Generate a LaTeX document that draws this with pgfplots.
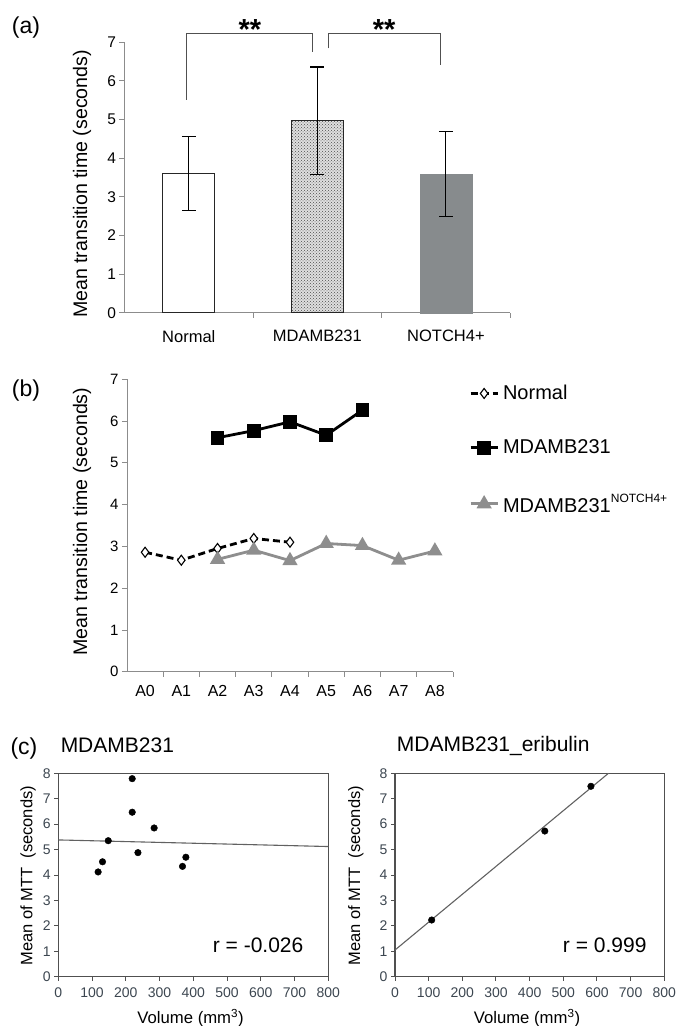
\documentclass[border=0pt]{standalone}
\usepackage{fontspec}
\setmainfont{Liberation Sans}
\usepackage{pgfplots}
\pgfplotsset{compat=1.18}
\usetikzlibrary{patterns}

\definecolor{axgray}{HTML}{8C8C8C}
\definecolor{bargray}{HTML}{878B8D}
\definecolor{linegray}{HTML}{8E8E8E}
\definecolor{boxgray}{HTML}{505050}
\definecolor{ticktext}{HTML}{3C4650}

\newcommand{\fs}[1]{\fontsize{#1}{#1}\selectfont}

\begin{document}
\begin{tikzpicture}
\path[use as bounding box] (0pt,0pt) rectangle (678pt,-1026pt);

% ---------------- (a) ----------------
\node[font=\fs{23}] at (26pt,-28pt) {(a)};
\begin{axis}[
  at={(124.5pt,-312.7pt)}, anchor=south west,
  scale only axis, width=385.7pt, height=270.4pt,
  xmin=-0.5, xmax=2.5, ymin=0, ymax=7,
  axis lines*=left,
  axis line style={axgray, line width=0.9pt},
  xtick={0,1,2}, xticklabels={Normal,MDAMB231,NOTCH4+},
  every major x tick/.append style={draw=none},
  minor xtick={0.5,1.5,2.5},
  ytick={0,...,7},
  tick align=outside, major tick length=5pt, minor tick length=5pt,
  every tick/.append style={axgray, line width=0.9pt},
  yticklabel style={font=\fs{15.5}},
  xticklabel style={font=\fs{16.5}, yshift=-9pt},
  /pgf/number format/assume math mode=true,
  ylabel={Mean transition time (seconds)},
  ylabel style={at={(axis description cs:-0.110,0.476)}, anchor=center, font=\fs{19.6}},
  clip=false,
  ybar, bar width=52pt,
  error bars/error bar style={black, line width=1.1pt},
  error bars/error mark options={rotate=90, mark size=7pt, line width=1.1pt, black},
]
\addplot[bar shift=0pt, fill=white, draw=black!85, line width=1.2pt,
  error bars/.cd, y dir=both, y explicit]
  coordinates {(0,3.61) += (0,0.94) -= (0,0.96)};
\addplot[bar shift=0pt, fill=gray!25, draw=black!85, line width=1.2pt,
  postaction={pattern=crosshatch dots, pattern color=black!70},
  error bars/.cd, y dir=both, y explicit]
  coordinates {(1,4.97) += (0,1.39) -= (0,1.40)};
\addplot[bar shift=0pt, fill=bargray, draw=bargray,
  error bars/.cd, y dir=both, y explicit]
  coordinates {(2,3.59) += (0,1.10) -= (0,1.10)};
% significance brackets
\draw[boxgray, line width=1pt] (axis cs:-0.02,5.51) -- (axis cs:-0.02,7.23) -- (axis cs:0.96,7.23) -- (axis cs:0.96,6.76);
\draw[boxgray, line width=1pt] (axis cs:1.09,6.84) -- (axis cs:1.09,7.23) -- (axis cs:1.96,7.23) -- (axis cs:1.96,6.41);
\node[font=\fs{29}\bfseries, anchor=base] at (axis cs:0.475,7.07) {**};
\node[font=\fs{29}\bfseries, anchor=base] at (axis cs:1.52,7.07) {**};
\end{axis}

% ---------------- (b) ----------------
\node[font=\fs{23}] at (26pt,-391pt) {(b)};
\begin{axis}[
  at={(127pt,-671.8pt)}, anchor=south west,
  scale only axis, width=326pt, height=292.6pt,
  xmin=-0.5, xmax=8.5, ymin=0, ymax=7,
  axis lines*=left,
  axis line style={axgray, line width=0.9pt},
  xtick={0,...,8}, xticklabels={A0,A1,A2,A3,A4,A5,A6,A7,A8},
  every major x tick/.append style={draw=none},
  minor xtick={0.5,1.5,...,8.5},
  ytick={0,...,7},
  tick align=outside, major tick length=5pt, minor tick length=5pt,
  every tick/.append style={axgray, line width=0.9pt},
  yticklabel style={font=\fs{15}},
  xticklabel style={font=\fs{16}, yshift=-5pt},
  /pgf/number format/assume math mode=true,
  ylabel={Mean transition time (seconds)},
  ylabel style={at={(axis description cs:-0.138,0.513)}, anchor=center, font=\fs{19.6}},
  clip=false,
  legend cell align=left,
  legend style={at={(axis description cs:1.04,0.993)}, anchor=north west, draw=none,
    fill=none, font=\fs{20}, row sep=34.5pt,
    nodes={inner xsep=4pt},
    legend image code/.code={\draw[mark repeat=2,mark phase=2,##1] plot coordinates {(0pt,0pt) (13.5pt,0pt) (27pt,0pt)};}},
]
\addplot[black, line width=2.8pt, dash pattern=on 7pt off 4pt,
  mark=diamond*, mark size=5pt, mark options={solid, fill=white, draw=black, line width=1.1pt}]
  coordinates {(0,2.86) (1,2.67) (2,2.95) (3,3.19) (4,3.10)};
\addlegendentry{Normal}
\addplot[black, line width=2.8pt, mark=square*, mark size=5.5pt, mark options={solid}]
  coordinates {(2,5.60) (3,5.77) (4,5.98) (5,5.66) (6,6.26)};
\addlegendentry{MDAMB231}
\addplot[linegray, line width=2.8pt, mark=triangle*, mark size=6pt, mark options={solid, fill=linegray}]
  coordinates {(2,2.69) (3,2.91) (4,2.66) (5,3.07) (6,3.02) (7,2.67) (8,2.89)};
\addlegendentry{MDAMB231\raisebox{0.5em}{\fs{12}NOTCH4+}}
\end{axis}

% ---------------- (c) ----------------
\node[font=\fs{23}] at (24pt,-749pt) {(c)};
\pgfplotsset{scatterpanel/.style={
  scale only axis, height=203.4pt,
  xmin=0, xmax=800, ymin=0, ymax=8,
  xtick={0,100,...,800}, ytick={0,...,8},
  axis line style={boxgray, line width=1.1pt},
  tick align=outside, tick pos=left, major tick length=4pt,
  every tick/.append style={boxgray, line width=1pt},
  ticklabel style={font=\fs{14}, text=ticktext},
  xticklabel style={yshift=-3pt},
  /pgf/number format/assume math mode=true,
  xlabel={Volume (mm\textsuperscript{3})},
  xlabel style={at={(axis description cs:0.49,-0.203)}, anchor=center, font=\fs{16.7}},
  ylabel style={anchor=center, font=\fs{16.5}},
  title style={anchor=west, font=\fs{21}},
  clip=false,
}}
\begin{axis}[scatterpanel,
  at={(58.3pt,-976.7pt)}, anchor=south west, width=270pt,
  ylabel={Mean of MTT\ \ (seconds)},
  ylabel style={at={(axis description cs:-0.112,0.496)}},
  title={MDAMB231},
  title style={at={(axis description cs:-0.004,1.106)}},
]
\addplot[boxgray!90, line width=1.1pt] coordinates {(0,5.38) (800,5.12)};
\addplot[only marks, mark=*, mark size=3.3pt, black]
  coordinates {(118,4.12) (131,4.52) (148,5.35) (219,7.79) (219,6.47) (236,4.88) (284,5.85) (368,4.34) (378,4.70)};
\node[font=\fs{21}] at (axis cs:592,1.25) {r = -0.026};
\end{axis}

\begin{axis}[scatterpanel,
  at={(395pt,-976.7pt)}, anchor=south west, width=269.3pt,
  ylabel={Mean of MTT\ \ (seconds)},
  ylabel style={at={(axis description cs:-0.145,0.496)}},
  title={MDAMB231\_eribulin},
  title style={at={(axis description cs:-0.006,1.106)}},
]
\addplot[boxgray!90, line width=1.1pt] coordinates {(0,1.05) (634,8)};
\addplot[only marks, mark=*, mark size=3.3pt, black]
  coordinates {(109,2.23) (445,5.73) (582,7.49)};
\node[font=\fs{21}] at (axis cs:623,1.25) {r = 0.999};
\end{axis}
\end{tikzpicture}
\end{document}
